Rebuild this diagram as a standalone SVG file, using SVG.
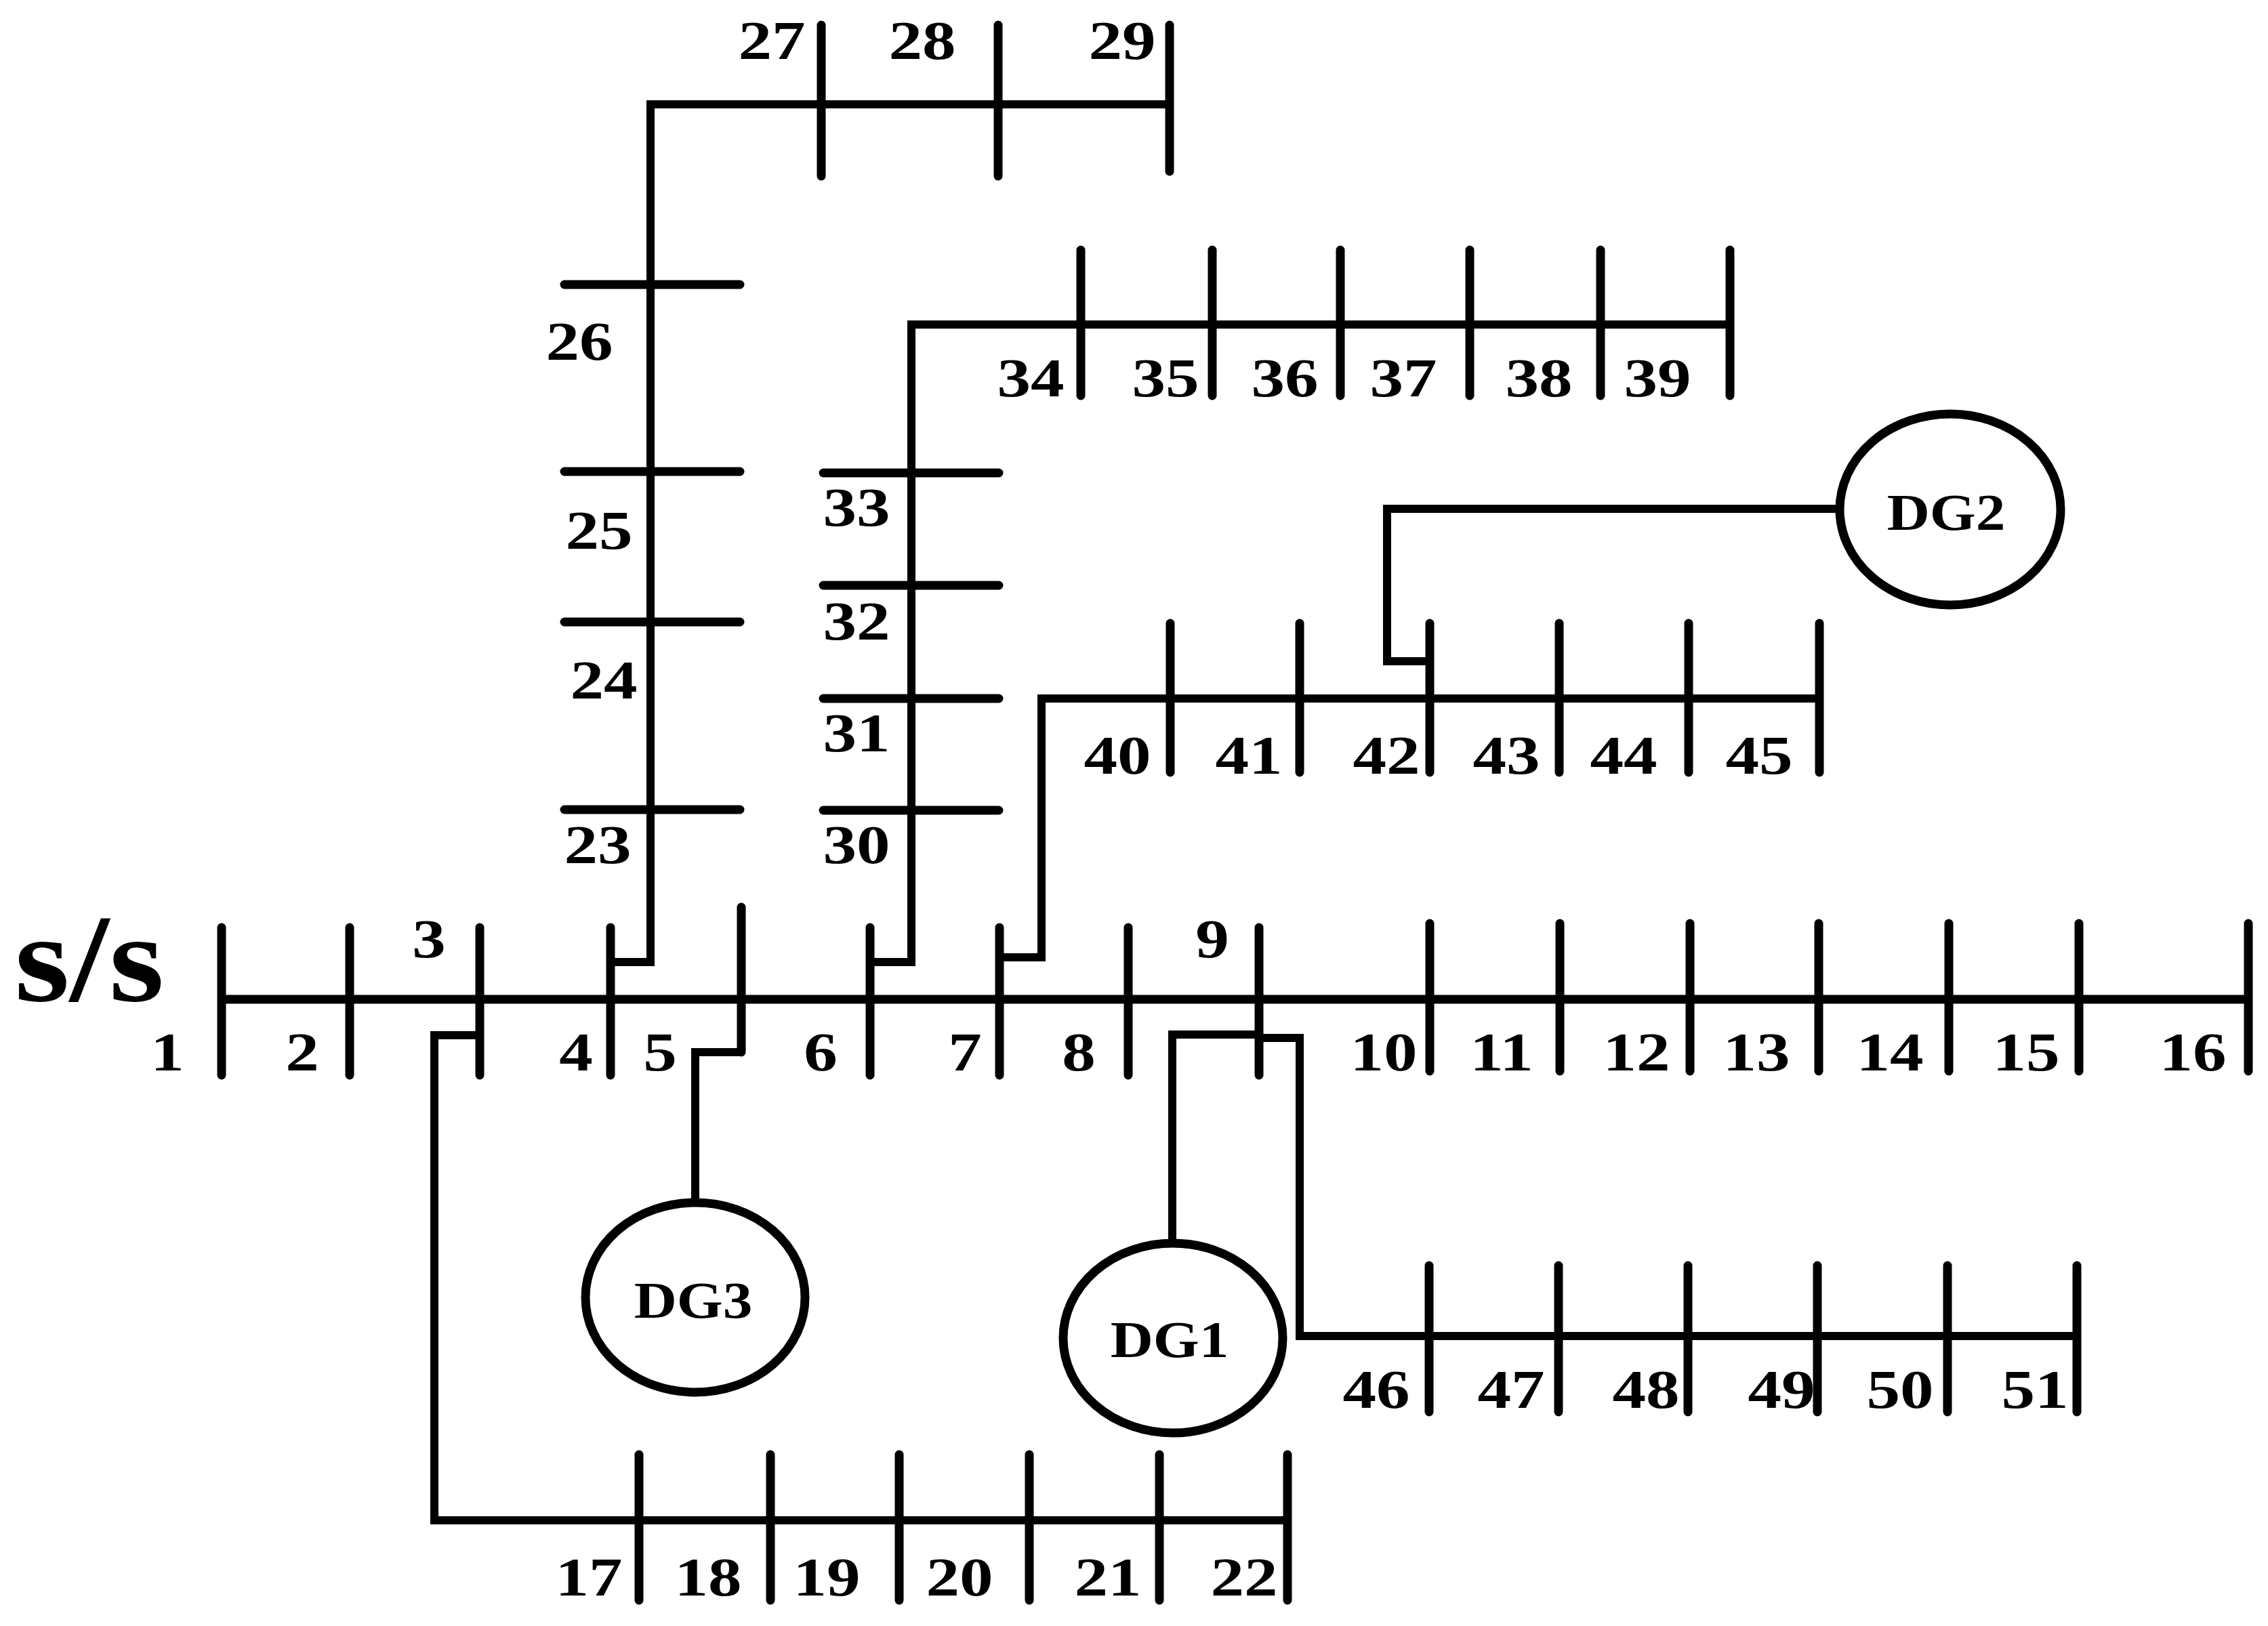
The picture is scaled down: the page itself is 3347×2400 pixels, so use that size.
<svg xmlns="http://www.w3.org/2000/svg" width="3347" height="2400" viewBox="0 0 3347 2400">
<style>
.ln{stroke:#000;stroke-width:12;fill:none;stroke-linejoin:miter;stroke-linecap:butt}
.main{stroke:#000;stroke-width:13;fill:none}
.bus{stroke:#000;stroke-width:13;stroke-linecap:round}
.dg{stroke:#000;stroke-width:13;fill:#fff}
.lbl{font-family:"Liberation Serif","Times New Roman",serif;font-weight:bold;font-size:80px;text-anchor:middle;fill:#000}
.dgt{font-family:"Liberation Serif","Times New Roman",serif;font-weight:bold;font-size:76px;text-anchor:middle;fill:#000}
.ss{font-family:"Liberation Serif","Times New Roman",serif;font-weight:bold;font-size:185px;text-anchor:middle;fill:#000}
</style>
<rect width="3347" height="2400" fill="#fff"/>
<g id="connectors">
<path class="main" d="M327,1475 H3318"/>
<path class="ln" d="M708,1528 H641 V2244 H1900"/>
<path class="ln" d="M901,1420 H960 V154 H1726"/>
<path class="ln" d="M1284,1420 H1345 V479 H2553"/>
<path class="ln" d="M1475,1413 H1537 V1031 H2685"/>
<path class="ln" d="M1094,1553 H1026 V1775"/>
<path class="ln" d="M1858,1527 H1730 V1835"/>
<path class="ln" d="M1858,1532 H1918 V1972 H3065"/>
<path class="ln" d="M2110,976 H2047 V751 H2715"/>
</g>
<g id="substation"><text class="ss" transform="translate(132 1477) scale(1.13 1)">s/s</text></g>
<g id="bus1"><line class="bus" x1="327" y1="1369" x2="327" y2="1587"/><text class="lbl" transform="translate(247 1580) scale(1.24 1)">1</text></g>
<g id="bus2"><line class="bus" x1="516" y1="1369" x2="516" y2="1587"/><text class="lbl" transform="translate(446 1580) scale(1.24 1)">2</text></g>
<g id="bus3"><line class="bus" x1="708" y1="1369" x2="708" y2="1587"/><text class="lbl" transform="translate(633 1413) scale(1.24 1)">3</text></g>
<g id="bus4"><line class="bus" x1="901" y1="1369" x2="901" y2="1587"/><text class="lbl" transform="translate(850 1580) scale(1.24 1)">4</text></g>
<g id="bus5"><line class="bus" x1="1094" y1="1339" x2="1094" y2="1553"/><text class="lbl" transform="translate(974 1580) scale(1.24 1)">5</text></g>
<g id="bus6"><line class="bus" x1="1284" y1="1369" x2="1284" y2="1587"/><text class="lbl" transform="translate(1211 1580) scale(1.24 1)">6</text></g>
<g id="bus7"><line class="bus" x1="1475" y1="1369" x2="1475" y2="1587"/><text class="lbl" transform="translate(1424 1580) scale(1.24 1)">7</text></g>
<g id="bus8"><line class="bus" x1="1665" y1="1369" x2="1665" y2="1587"/><text class="lbl" transform="translate(1592 1580) scale(1.24 1)">8</text></g>
<g id="bus9"><line class="bus" x1="1858" y1="1369" x2="1858" y2="1587"/><text class="lbl" transform="translate(1789 1413) scale(1.24 1)">9</text></g>
<g id="bus10"><line class="bus" x1="2110" y1="1363" x2="2110" y2="1581"/><text class="lbl" transform="translate(2042 1580) scale(1.24 1)">10</text></g>
<g id="bus11"><line class="bus" x1="2302" y1="1363" x2="2302" y2="1581"/><text class="lbl" transform="translate(2216 1580) scale(1.24 1)">11</text></g>
<g id="bus12"><line class="bus" x1="2494" y1="1363" x2="2494" y2="1581"/><text class="lbl" transform="translate(2415 1580) scale(1.24 1)">12</text></g>
<g id="bus13"><line class="bus" x1="2684" y1="1363" x2="2684" y2="1581"/><text class="lbl" transform="translate(2592 1580) scale(1.24 1)">13</text></g>
<g id="bus14"><line class="bus" x1="2876" y1="1363" x2="2876" y2="1581"/><text class="lbl" transform="translate(2789 1580) scale(1.24 1)">14</text></g>
<g id="bus15"><line class="bus" x1="3068" y1="1363" x2="3068" y2="1581"/><text class="lbl" transform="translate(2990 1580) scale(1.24 1)">15</text></g>
<g id="bus16"><line class="bus" x1="3318" y1="1363" x2="3318" y2="1581"/><text class="lbl" transform="translate(3236 1580) scale(1.24 1)">16</text></g>
<g id="bus17"><line class="bus" x1="943" y1="2147" x2="943" y2="2362"/><text class="lbl" transform="translate(869 2355) scale(1.24 1)">17</text></g>
<g id="bus18"><line class="bus" x1="1137" y1="2147" x2="1137" y2="2362"/><text class="lbl" transform="translate(1045 2355) scale(1.24 1)">18</text></g>
<g id="bus19"><line class="bus" x1="1327" y1="2147" x2="1327" y2="2362"/><text class="lbl" transform="translate(1220 2355) scale(1.24 1)">19</text></g>
<g id="bus20"><line class="bus" x1="1519" y1="2147" x2="1519" y2="2362"/><text class="lbl" transform="translate(1416 2355) scale(1.24 1)">20</text></g>
<g id="bus21"><line class="bus" x1="1711" y1="2147" x2="1711" y2="2362"/><text class="lbl" transform="translate(1635 2355) scale(1.24 1)">21</text></g>
<g id="bus22"><line class="bus" x1="1900" y1="2147" x2="1900" y2="2362"/><text class="lbl" transform="translate(1836 2355) scale(1.24 1)">22</text></g>
<g id="bus23"><line class="bus" x1="833" y1="1195" x2="1092" y2="1195"/><text class="lbl" transform="translate(882 1274) scale(1.24 1)">23</text></g>
<g id="bus24"><line class="bus" x1="833" y1="918" x2="1092" y2="918"/><text class="lbl" transform="translate(891 1031) scale(1.24 1)">24</text></g>
<g id="bus25"><line class="bus" x1="833" y1="696" x2="1092" y2="696"/><text class="lbl" transform="translate(884 810) scale(1.24 1)">25</text></g>
<g id="bus26"><line class="bus" x1="833" y1="420" x2="1092" y2="420"/><text class="lbl" transform="translate(855 531) scale(1.24 1)">26</text></g>
<g id="bus27"><line class="bus" x1="1212" y1="37" x2="1212" y2="260"/><text class="lbl" transform="translate(1139 87) scale(1.24 1)">27</text></g>
<g id="bus28"><line class="bus" x1="1473" y1="37" x2="1473" y2="260"/><text class="lbl" transform="translate(1361 87) scale(1.24 1)">28</text></g>
<g id="bus29"><line class="bus" x1="1726" y1="37" x2="1726" y2="253"/><text class="lbl" transform="translate(1656 87) scale(1.24 1)">29</text></g>
<g id="bus30"><line class="bus" x1="1215" y1="1196" x2="1474" y2="1196"/><text class="lbl" transform="translate(1264 1274) scale(1.24 1)">30</text></g>
<g id="bus31"><line class="bus" x1="1215" y1="1031" x2="1474" y2="1031"/><text class="lbl" transform="translate(1264 1109) scale(1.24 1)">31</text></g>
<g id="bus32"><line class="bus" x1="1215" y1="864" x2="1474" y2="864"/><text class="lbl" transform="translate(1264 944) scale(1.24 1)">32</text></g>
<g id="bus33"><line class="bus" x1="1215" y1="698" x2="1474" y2="698"/><text class="lbl" transform="translate(1264 776) scale(1.24 1)">33</text></g>
<g id="bus34"><line class="bus" x1="1595" y1="369" x2="1595" y2="584"/><text class="lbl" transform="translate(1521 585) scale(1.24 1)">34</text></g>
<g id="bus35"><line class="bus" x1="1789" y1="369" x2="1789" y2="584"/><text class="lbl" transform="translate(1720 585) scale(1.24 1)">35</text></g>
<g id="bus36"><line class="bus" x1="1978" y1="369" x2="1978" y2="584"/><text class="lbl" transform="translate(1896 585) scale(1.24 1)">36</text></g>
<g id="bus37"><line class="bus" x1="2169" y1="369" x2="2169" y2="584"/><text class="lbl" transform="translate(2071 585) scale(1.24 1)">37</text></g>
<g id="bus38"><line class="bus" x1="2362" y1="369" x2="2362" y2="584"/><text class="lbl" transform="translate(2271 585) scale(1.24 1)">38</text></g>
<g id="bus39"><line class="bus" x1="2553" y1="369" x2="2553" y2="584"/><text class="lbl" transform="translate(2446 585) scale(1.24 1)">39</text></g>
<g id="bus40"><line class="bus" x1="1727" y1="920" x2="1727" y2="1140"/><text class="lbl" transform="translate(1649 1142) scale(1.24 1)">40</text></g>
<g id="bus41"><line class="bus" x1="1918" y1="920" x2="1918" y2="1140"/><text class="lbl" transform="translate(1843 1142) scale(1.24 1)">41</text></g>
<g id="bus42"><line class="bus" x1="2110" y1="920" x2="2110" y2="1140"/><text class="lbl" transform="translate(2046 1142) scale(1.24 1)">42</text></g>
<g id="bus43"><line class="bus" x1="2301" y1="920" x2="2301" y2="1140"/><text class="lbl" transform="translate(2223 1142) scale(1.24 1)">43</text></g>
<g id="bus44"><line class="bus" x1="2492" y1="920" x2="2492" y2="1140"/><text class="lbl" transform="translate(2396 1142) scale(1.24 1)">44</text></g>
<g id="bus45"><line class="bus" x1="2685" y1="920" x2="2685" y2="1140"/><text class="lbl" transform="translate(2596 1142) scale(1.24 1)">45</text></g>
<g id="bus46"><line class="bus" x1="2109" y1="1868" x2="2109" y2="2084"/><text class="lbl" transform="translate(2031 2078) scale(1.24 1)">46</text></g>
<g id="bus47"><line class="bus" x1="2300" y1="1868" x2="2300" y2="2084"/><text class="lbl" transform="translate(2230 2078) scale(1.24 1)">47</text></g>
<g id="bus48"><line class="bus" x1="2491" y1="1868" x2="2491" y2="2084"/><text class="lbl" transform="translate(2429 2078) scale(1.24 1)">48</text></g>
<g id="bus49"><line class="bus" x1="2682" y1="1868" x2="2682" y2="2084"/><text class="lbl" transform="translate(2629 2078) scale(1.24 1)">49</text></g>
<g id="bus50"><line class="bus" x1="2874" y1="1868" x2="2874" y2="2084"/><text class="lbl" transform="translate(2804 2078) scale(1.24 1)">50</text></g>
<g id="bus51"><line class="bus" x1="3065" y1="1868" x2="3065" y2="2084"/><text class="lbl" transform="translate(3003 2078) scale(1.24 1)">51</text></g>
<g id="dg1"><ellipse class="dg" cx="1731" cy="1975" rx="162" ry="140"/><text class="dgt" transform="translate(1726 2003) scale(1.15 1)">DG1</text></g>
<g id="dg2"><ellipse class="dg" cx="2878" cy="752" rx="163" ry="141"/><text class="dgt" transform="translate(2872 782) scale(1.15 1)">DG2</text></g>
<g id="dg3"><ellipse class="dg" cx="1026" cy="1915" rx="162" ry="140"/><text class="dgt" transform="translate(1023 1945) scale(1.15 1)">DG3</text></g>
</svg>
